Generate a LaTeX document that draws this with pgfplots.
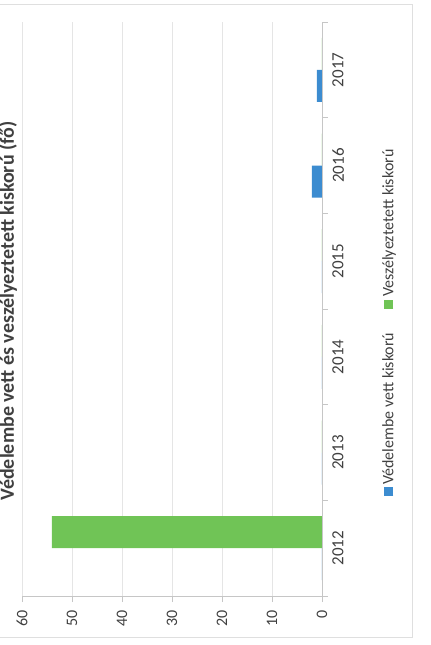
\documentclass[border=0pt]{standalone}
\usepackage{pgfplots}
\pgfplotsset{compat=1.18}
\usepackage{fontspec}
\setmainfont{Carlito}
\definecolor{kek}{RGB}{60,140,208}
\definecolor{zold}{RGB}{112,196,86}
\begin{document}
\begin{tikzpicture}
\path[use as bounding box] (0,0) rectangle (215.5pt,322.5pt);
\draw[gray!25] (-5pt,4pt) rectangle (206pt,320.5pt);
\node[rotate=90, font=\bfseries\fontsize{10}{12}\selectfont, text=black!75] at (4pt,167pt)
  {Védelembe vett és veszélyeztetett kiskorú (fő)};
% legend, turned like the rest of the chart
\node[rotate=90, font=\fontsize{8}{9.5}\selectfont, text=black!75] at (194.5pt,161pt)
  {\textcolor{kek}{\rule{4.5pt}{4.5pt}}\,Védelembe vett kiskorú\hspace{12pt}%
   \textcolor{zold}{\rule{4.5pt}{4.5pt}}\,Veszélyeztetett kiskorú};
\begin{axis}[
  at={(11pt,24.5pt)}, anchor=south west,
  scale only axis, width=150pt, height=287pt,
  xbar, bar width=16pt,
  x dir=reverse,
  xmin=0, xmax=60,
  ymin=-0.5, ymax=5.5,
  xtick={0,10,...,60},
  ytick={-0.5,0.5,...,5.5},
  yticklabels={},
  extra y ticks={0,1,2,3,4,5},
  extra y tick labels={2012,2013,2014,2015,2016,2017},
  extra y tick style={major tick length=0pt},
  yticklabel pos=right,
  axis x line*=bottom, axis y line*=right,
  axis line style={draw=gray!45, -},
  tick style={draw=gray!45},
  major tick length=3pt,
  tick align=outside,
  xmajorgrids, grid style={draw=gray!20},
  /pgf/number format/assume math mode=true,
  xticklabel style={rotate=90, anchor=east, inner xsep=4pt,
    font=\fontsize{8}{9}\selectfont, text=black!75},
  yticklabel style={rotate=90, anchor=north, inner ysep=5pt,
    font=\fontsize{8.5}{10}\selectfont, text=black!75},
]
\addplot[fill=kek, draw=none, bar shift=-8pt] coordinates {
  (0,0) (0,1) (0,2) (0,3) (2,4) (1,5)
};
\addplot[fill=zold, draw=none, bar shift=8pt] coordinates {
  (54,0) (0,1) (0,2) (0,3) (0,4) (0,5)
};
\end{axis}
\end{tikzpicture}
\end{document}
